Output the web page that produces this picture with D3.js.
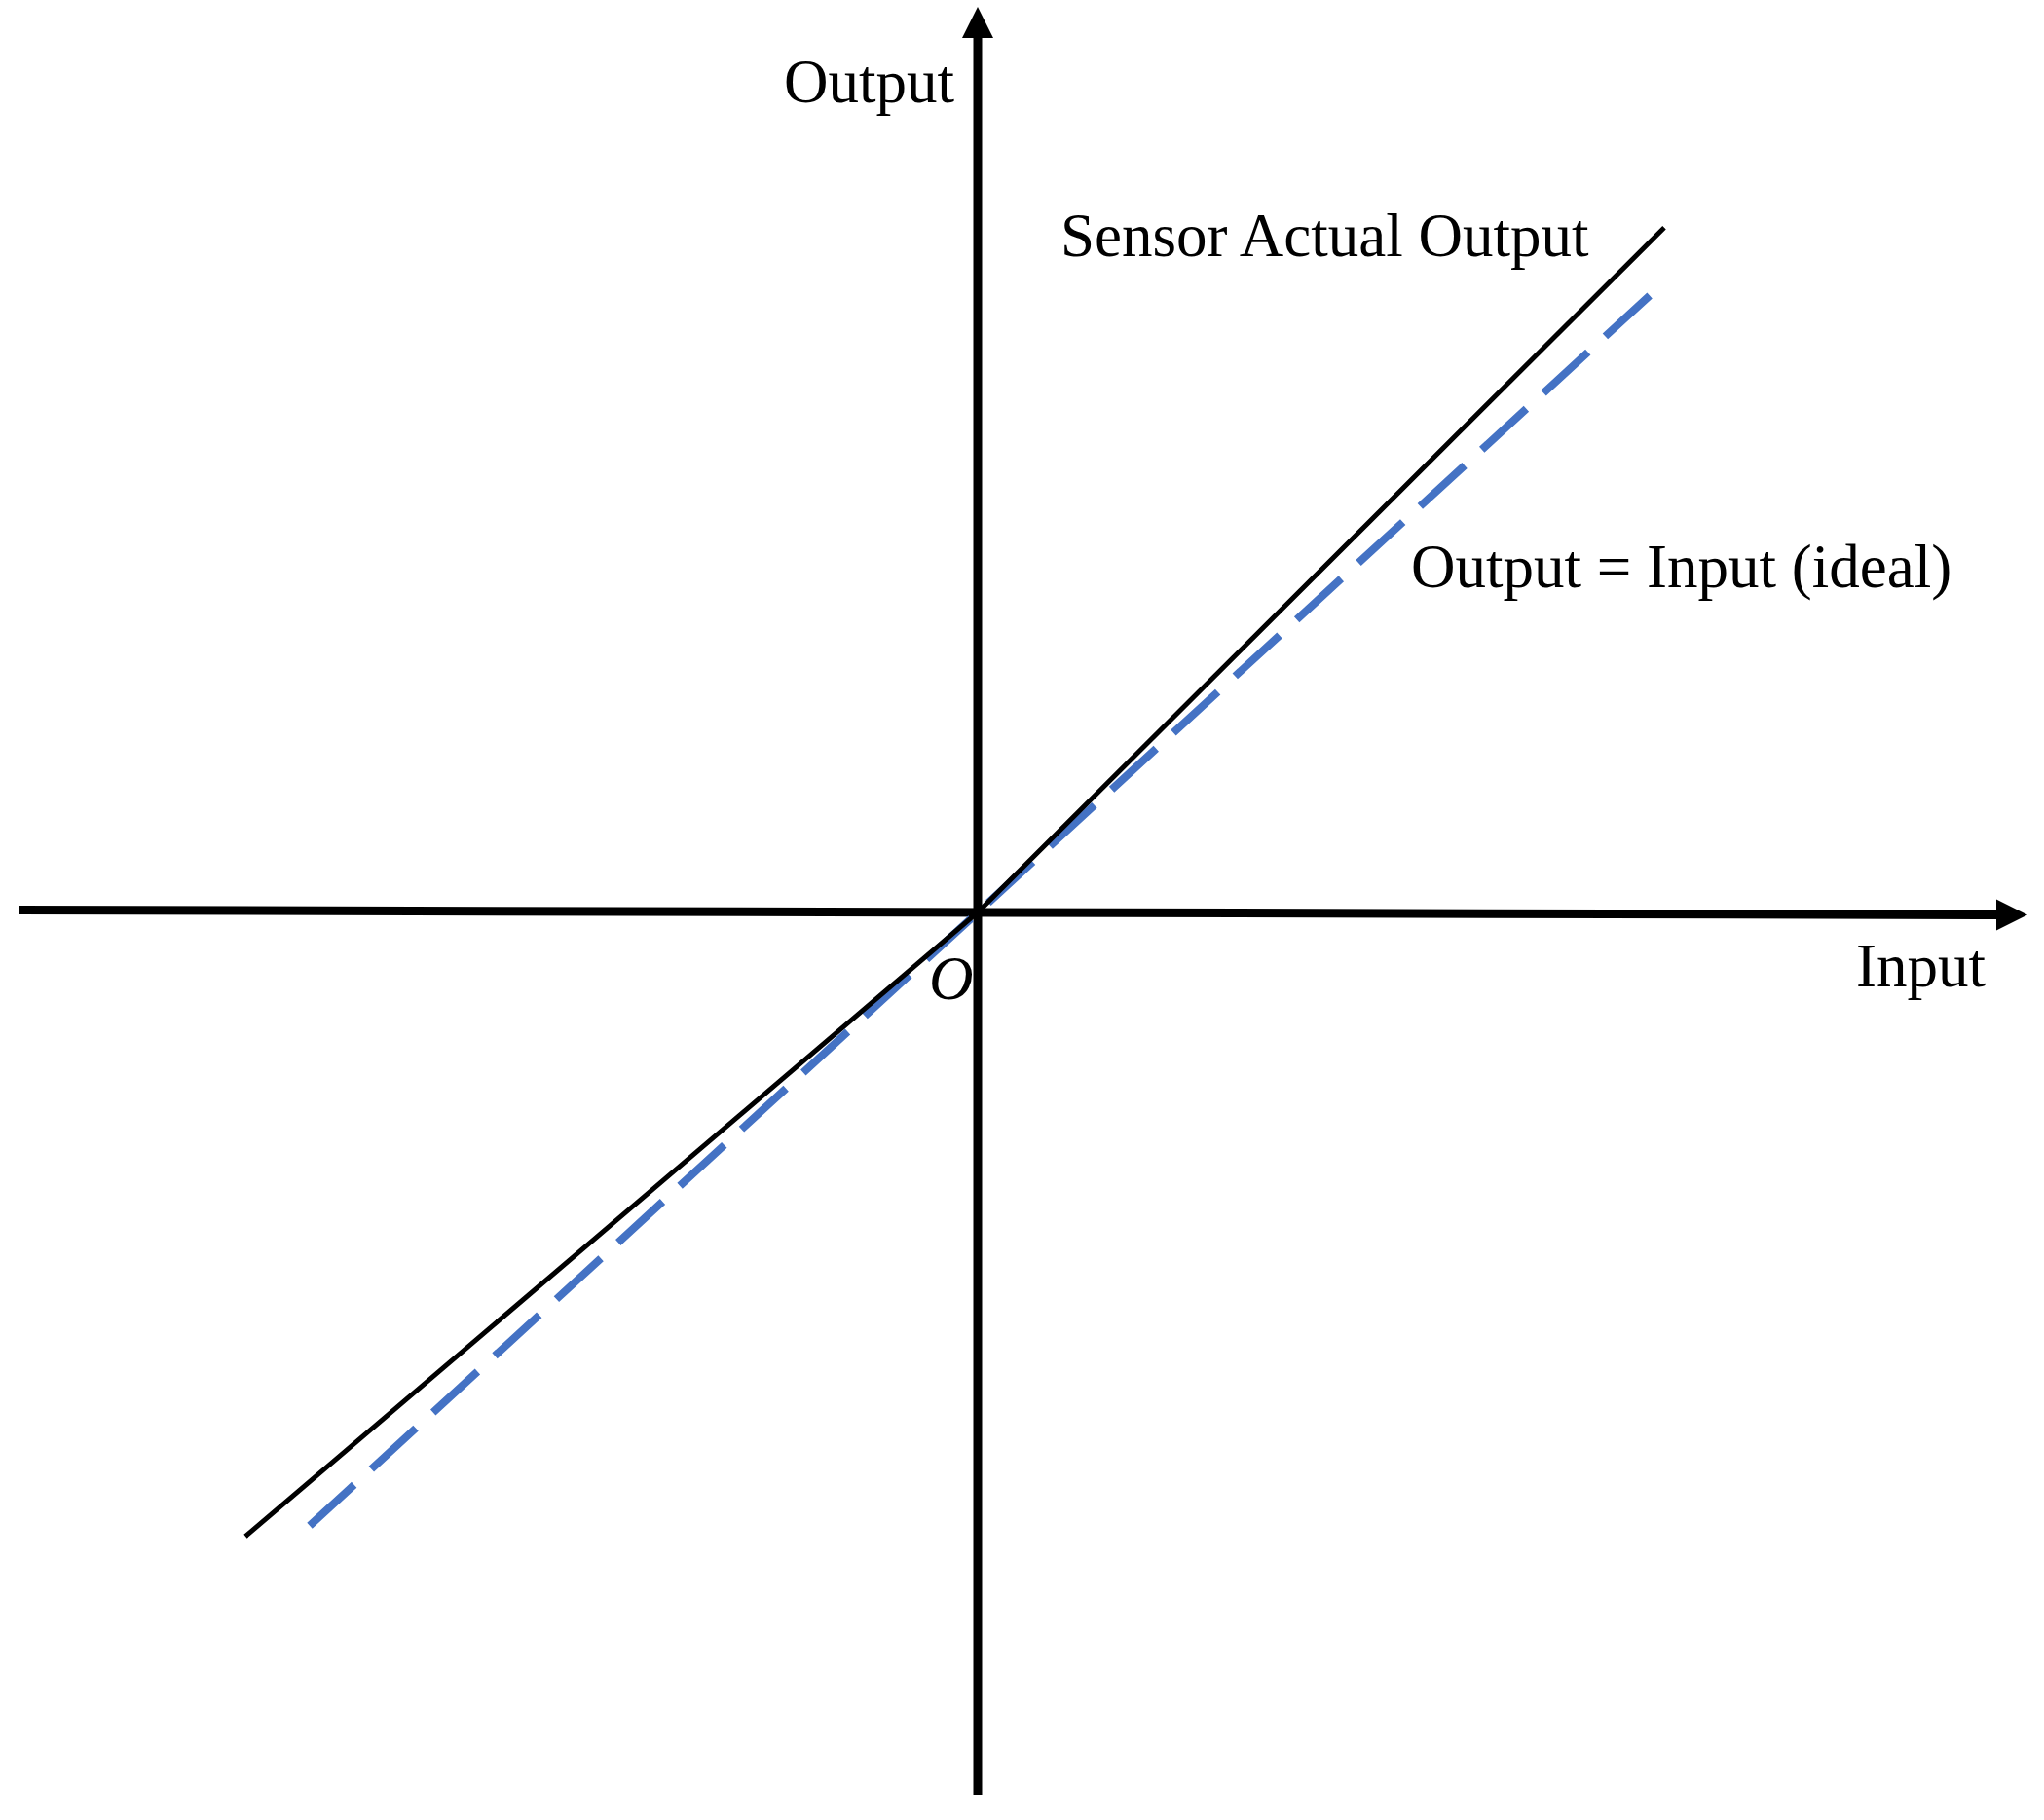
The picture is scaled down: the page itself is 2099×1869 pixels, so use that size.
<!DOCTYPE html>
<html>
<head>
<meta charset="utf-8">
<script src="https://cdn.jsdelivr.net/npm/d3@7"></script>
<style>
  body { margin: 0; background: #fff; }
  svg { display: block; }
  text { font-family: 'Liberation Serif', 'Times New Roman', serif; fill: #000; font-size: 63px; }
</style>
</head>
<body>
<svg width="2099" height="1869"></svg>
<script>
  // data (input, output) in chart units
  const actualOutput = [
    { input: -7.52, output: -6.98 },
    { input: 0, output: 0 },
    { input: 7.05, output: 7.66 }
  ];
  const idealOutput = [
    { input: -6.86, output: -6.86 },
    { input: 6.92, output: 6.92 }
  ];
  const xExtent = [-9.85, 10.78];
  const yExtent = [-9.87, 10.13];
  const labels = {
    xAxis: 'Input',
    yAxis: 'Output',
    origin: 'O',
    actual: 'Sensor Actual Output',
    ideal: 'Output = Input (ideal)'
  };

  const svg = d3.select('svg');

  const xScale = d3.scaleLinear()
    .domain([0, 10])
    .range([1004, 2004]);

  const yScale = d3.scaleLinear()
    .domain([0, 10])
    .range([937, 19]);

  const g = svg.append('g');

  // axes (the horizontal one droops a few px to the right, as drawn)
  const x0 = xScale(0);
  const y0 = yScale(0);
  const tilt = 2.5;
  const arrowLen = 32;
  const arrowHalf = 16;

  g.append('line')
    .attr('x1', xScale(xExtent[0]))
    .attr('y1', y0 - tilt)
    .attr('x2', xScale(xExtent[1]) - arrowLen + 2)
    .attr('y2', y0 + tilt)
    .attr('stroke', '#000')
    .attr('stroke-width', 9);

  g.append('line')
    .attr('x1', x0)
    .attr('y1', yScale(yExtent[0]))
    .attr('x2', x0)
    .attr('y2', yScale(yExtent[1]) + arrowLen - 2)
    .attr('stroke', '#000')
    .attr('stroke-width', 9);

  const xTip = xScale(xExtent[1]);
  const yx = y0 + tilt;
  g.append('path')
    .attr('d', `M${xTip},${yx} L${xTip - arrowLen},${yx - arrowHalf} L${xTip - arrowLen},${yx + arrowHalf} Z`)
    .attr('fill', '#000');

  const yTip = yScale(yExtent[1]);
  g.append('path')
    .attr('d', `M${x0},${yTip} L${x0 - arrowHalf},${yTip + arrowLen} L${x0 + arrowHalf},${yTip + arrowLen} Z`)
    .attr('fill', '#000');

  const lineGenerator = d3.line()
    .x(d => xScale(d.input))
    .y(d => yScale(d.output));

  g.append('path')
    .attr('d', lineGenerator(idealOutput))
    .attr('fill', 'none')
    .attr('stroke', '#4472c4')
    .attr('stroke-width', 8)
    .attr('stroke-dasharray', '62,24');

  g.append('path')
    .attr('d', lineGenerator(actualOutput))
    .attr('fill', 'none')
    .attr('stroke', '#000')
    .attr('stroke-width', 5);

  // labels
  g.append('text')
    .attr('x', 805)
    .attr('y', 105)
    .text(labels.yAxis);

  g.append('text')
    .attr('x', 1906)
    .attr('y', 1013)
    .text(labels.xAxis);

  g.append('text')
    .attr('x', 954)
    .attr('y', 1026)
    .style('font-style', 'italic')
    .text(labels.origin);

  g.append('text')
    .attr('x', 1089)
    .attr('y', 263)
    .text(labels.actual);

  g.append('text')
    .attr('x', 1449)
    .attr('y', 603)
    .text(labels.ideal);
</script>
</body>
</html>
